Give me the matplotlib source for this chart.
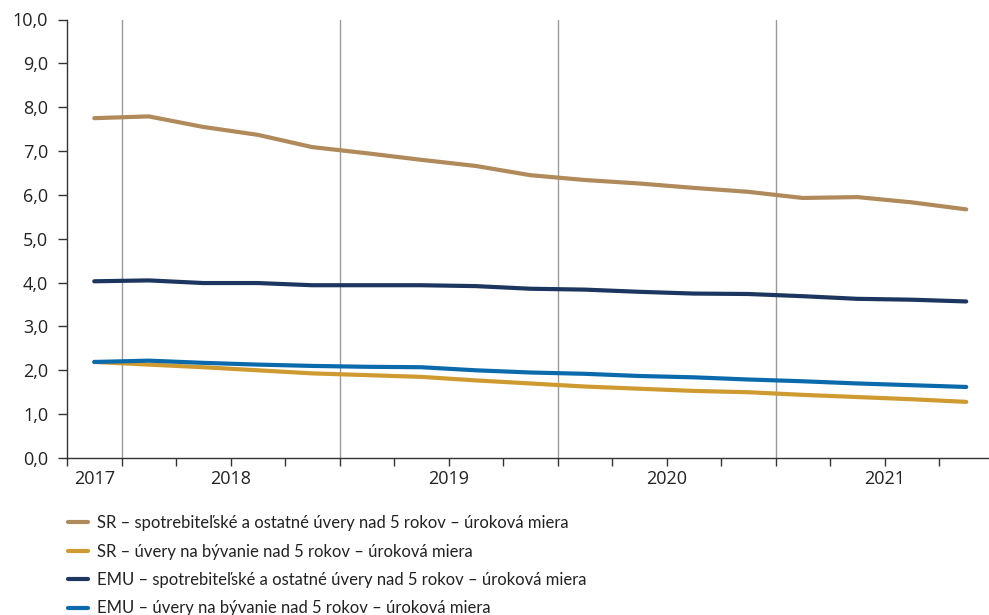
import matplotlib
matplotlib.use("Agg")
import matplotlib.pyplot as plt
from matplotlib.ticker import FuncFormatter, FixedLocator

# Quarterly series, 2017 Q4 - 2021 Q4
quarters = ["2017Q4",
            "2018Q1", "2018Q2", "2018Q3", "2018Q4",
            "2019Q1", "2019Q2", "2019Q3", "2019Q4",
            "2020Q1", "2020Q2", "2020Q3", "2020Q4",
            "2021Q1", "2021Q2", "2021Q3", "2021Q4"]

sr_consumer = [7.75, 7.79, 7.55, 7.37, 7.09, 6.95, 6.80, 6.66, 6.45,
               6.34, 6.26, 6.16, 6.07, 5.93, 5.95, 5.83, 5.67]
sr_housing = [2.19, 2.13, 2.07, 2.00, 1.93, 1.89, 1.85, 1.77, 1.70,
              1.63, 1.58, 1.53, 1.50, 1.44, 1.39, 1.34, 1.28]
emu_consumer = [4.03, 4.05, 3.99, 3.99, 3.94, 3.94, 3.94, 3.92, 3.86,
                3.84, 3.79, 3.75, 3.74, 3.69, 3.63, 3.61, 3.57]
emu_housing = [2.19, 2.22, 2.17, 2.13, 2.10, 2.08, 2.07, 2.00, 1.95,
               1.92, 1.87, 1.84, 1.79, 1.75, 1.70, 1.66, 1.62]

series_labels = [
    "SR – spotrebiteľské a ostatné úvery nad 5 rokov – úroková miera",
    "SR – úvery na bývanie nad 5 rokov – úroková miera",
    "EMU – spotrebiteľské a ostatné úvery nad 5 rokov – úroková miera",
    "EMU – úvery na bývanie nad 5 rokov – úroková miera",
]
series_colors = ["#B08A5A", "#CF9A2F", "#1C365F", "#0A6AAB"]

year_labels = ["2017", "2018", "2019", "2020", "2021"]
year_positions = [0, 2.5, 6.5, 10.5, 14.5]
year_bounds = [0.5, 4.5, 8.5, 12.5]

y_ticks = [0, 1, 2, 3, 4, 5, 6, 7, 8, 9, 10]

plt.rcParams["font.family"] = ["Open Sans", "DejaVu Sans"]
plt.rcParams["font.size"] = 13

fig = plt.figure(figsize=(9.89, 6.15), dpi=100)
W, H = 989, 615
ax = fig.add_axes([67 / W, 1 - 458 / H, (989 - 67) / W, (458 - 19.5) / H])

x = list(range(len(quarters)))
for vals, lab, col in zip([sr_consumer, sr_housing, emu_consumer, emu_housing],
                          series_labels, series_colors):
    ax.plot(x, vals, color=col, lw=3.0, label=lab, solid_capstyle="round",
            solid_joinstyle="round", zorder=3)

# year separators
for b in year_bounds:
    ax.axvline(b, color="#9a9a9a", lw=1.0, zorder=1)

ax.set_ylim(0, 10)
ax.set_xlim(-0.5, -0.5 + 922 / 54.5)

ax.set_yticks(y_ticks)
ax.yaxis.set_major_formatter(FuncFormatter(lambda v, p: f"{v:.1f}".replace(".", ",")))
ax.tick_params(axis="y", length=6.5, width=1.0, color="#333333", pad=7,
               labelcolor="#222222", labelsize=13)

# quarter boundary ticks (unlabelled) + year labels on minor ticks
ax.xaxis.remove_overlapping_locs = False
ax.xaxis.set_major_locator(FixedLocator([i - 0.5 for i in range(len(quarters))]))
ax.xaxis.set_major_formatter(FuncFormatter(lambda v, p: ""))
ax.xaxis.set_minor_locator(FixedLocator(year_positions))
ax.set_xticklabels(year_labels, minor=True)
ax.tick_params(axis="x", which="major", length=6, width=1.0, color="#333333")
ax.tick_params(axis="x", which="minor", length=0, pad=9, labelcolor="#222222",
               labelsize=13)
for t, pos in zip(ax.xaxis.get_major_ticks(), [i - 0.5 for i in range(len(quarters))]):
    if pos in year_bounds:
        t.tick1line.set_color("#9a9a9a")

for s in ["top", "right"]:
    ax.spines[s].set_visible(False)
for s in ["left", "bottom"]:
    ax.spines[s].set_color("#333333")
    ax.spines[s].set_linewidth(1.0)

handles, labels = ax.get_legend_handles_labels()
leg = fig.legend(handles, labels, loc="upper left",
                 bbox_to_anchor=(68 / W, 1 - 515 / H), frameon=False,
                 handlelength=1.2, handletextpad=0.55, labelspacing=0.75,
                 prop={"family": ["Lato", "DejaVu Sans"], "size": 12},
                 borderaxespad=0, borderpad=0)
for t in leg.get_texts():
    t.set_color("#222222")

fig.savefig("out.png", dpi=100)
